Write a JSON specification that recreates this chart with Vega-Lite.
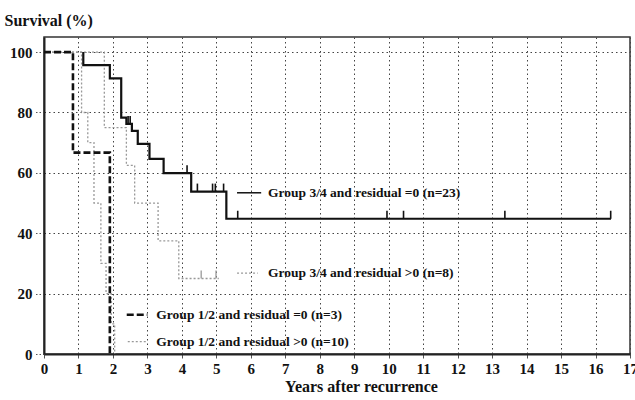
{
  "$schema": "https://vega.github.io/schema/vega-lite/v6.json",
  "width": 586,
  "height": 317,
  "autosize": {"type": "none"},
  "padding": {"left": 44, "top": 37, "right": 5, "bottom": 46},
  "background": "white",
  "data": {"values": [{}]},
  "config": {
    "font": "Liberation Serif",
    "view": {"stroke": "#333", "strokeWidth": 1.5},
    "axis": {
      "labelFont": "Liberation Serif", "labelFontWeight": "bold", "labelFontSize": 15, "labelColor": "#111",
      "titleFont": "Liberation Serif", "titleFontWeight": "bold", "titleFontSize": 16, "titleColor": "#111",
      "domainColor": "#222", "domainWidth": 2,
      "gridColor": "#444", "gridDash": [1.5, 3], "gridWidth": 1,
      "tickColor": "#555"
    },
    "axisX": {
      "values": [0,1,2,3,4,5,6,7,8,9,10,11,12,13,14,15,16,17],
      "tickCount": 40, "labelOverlap": false, "format": "d",
      "grid": true, "tickSize": 4, "labelPadding": 3, "labelFlush": false,
      "titleX": 317, "titleY": 32, "titleBaseline": "middle", "titleAlign": "center"
    },
    "axisY": {
      "values": [0, 20, 40, 60, 80, 100],
      "tickCount": 20, "labelOverlap": false, "format": "d",
      "grid": true, "tickSize": 10, "tickDash": [1.5, 2], "labelPadding": 2,
      "titleAngle": 0, "titleAlign": "left", "titleBaseline": "middle",
      "titleX": -40, "titleY": -17
    }
  },
  "datasets": {
    "curves": [
      {"series": "G34_res0", "years": 1.14, "survival": 100},
      {"series": "G34_res0", "years": 1.14, "survival": 95.7},
      {"series": "G34_res0", "years": 1.91, "survival": 91.3},
      {"series": "G34_res0", "years": 2.24, "survival": 78.3},
      {"series": "G34_res0", "years": 2.39, "survival": 76.2},
      {"series": "G34_res0", "years": 2.55, "survival": 73.9},
      {"series": "G34_res0", "years": 2.72, "survival": 69.6},
      {"series": "G34_res0", "years": 3.06, "survival": 64.6},
      {"series": "G34_res0", "years": 3.47, "survival": 59.9},
      {"series": "G34_res0", "years": 4.27, "survival": 53.8},
      {"series": "G34_res0", "years": 5.29, "survival": 44.8},
      {"series": "G34_res0", "years": 16.45, "survival": 44.8},
      {"series": "G34_resPos", "years": 0, "survival": 100},
      {"series": "G34_resPos", "years": 1.75, "survival": 75},
      {"series": "G34_resPos", "years": 2.39, "survival": 62.5},
      {"series": "G34_resPos", "years": 2.63, "survival": 50},
      {"series": "G34_resPos", "years": 3.31, "survival": 37.5},
      {"series": "G34_resPos", "years": 3.91, "survival": 25},
      {"series": "G34_resPos", "years": 5.07, "survival": 25},
      {"series": "G12_res0", "years": 0, "survival": 100},
      {"series": "G12_res0", "years": 0.84, "survival": 66.7},
      {"series": "G12_res0", "years": 1.91, "survival": 0},
      {"series": "G12_resPos", "years": 0, "survival": 100},
      {"series": "G12_resPos", "years": 1.09, "survival": 80},
      {"series": "G12_resPos", "years": 1.27, "survival": 70},
      {"series": "G12_resPos", "years": 1.45, "survival": 50},
      {"series": "G12_resPos", "years": 1.65, "survival": 30},
      {"series": "G12_resPos", "years": 1.8, "survival": 20},
      {"series": "G12_resPos", "years": 1.95, "survival": 10},
      {"series": "G12_resPos", "years": 2.05, "survival": 0}
    ],
    "censored": [
      {"series": "G34_res0", "years": 2.44, "survival": 76.2},
      {"series": "G34_res0", "years": 2.5, "survival": 76.2},
      {"series": "G34_res0", "years": 4.15, "survival": 59.9},
      {"series": "G34_res0", "years": 4.45, "survival": 53.8},
      {"series": "G34_res0", "years": 4.89, "survival": 53.8},
      {"series": "G34_res0", "years": 4.97, "survival": 53.8},
      {"series": "G34_res0", "years": 5.21, "survival": 53.8},
      {"series": "G34_res0", "years": 5.62, "survival": 44.8},
      {"series": "G34_res0", "years": 9.95, "survival": 44.8},
      {"series": "G34_res0", "years": 10.43, "survival": 44.8},
      {"series": "G34_res0", "years": 13.37, "survival": 44.8},
      {"series": "G34_res0", "years": 16.44, "survival": 44.8},
      {"series": "G34_resPos", "years": 4.56, "survival": 25},
      {"series": "G34_resPos", "years": 4.99, "survival": 25}
    ]
  },
  "layer": [
    {
      "data": {"name": "curves"},
      "transform": [{"filter": "datum.series === 'G34_resPos' || datum.series === 'G12_resPos'"}],
      "mark": {"type": "line", "interpolate": "step-after", "color": "#999", "strokeDash": [2, 2], "strokeWidth": 1.3},
      "encoding": {
        "detail": {"field": "series"},
        "x": {
          "field": "years", "type": "quantitative",
          "scale": {"domain": [0, 17], "nice": false, "zero": false},
          "axis": {"title": "Years after recurrence", "values": [0,1,2,3,4,5,6,7,8,9,10,11,12,13,14,15,16,17], "tickCount": 40, "format": "d"}
        },
        "y": {
          "field": "survival", "type": "quantitative",
          "scale": {"domain": [0, 105], "nice": false},
          "axis": {"title": "Survival (%)", "values": [0, 20, 40, 60, 80, 100], "tickCount": 20, "format": "d"}
        }
      }
    },
    {
      "data": {"name": "censored"},
      "transform": [{"filter": "datum.series === 'G34_resPos'"}],
      "mark": {"type": "point", "shape": "M0,0L0,-1", "size": 256, "filled": false, "stroke": "#999", "strokeWidth": 1.3, "opacity": 1},
      "encoding": {
        "x": {"field": "years", "type": "quantitative", "title": "Years after recurrence"},
        "y": {"field": "survival", "type": "quantitative", "title": "Survival (%)"}
      }
    },
    {
      "data": {"name": "curves"},
      "transform": [{"filter": "datum.series === 'G12_res0'"}],
      "mark": {"type": "line", "interpolate": "step-after", "color": "#111", "strokeDash": [7, 3], "strokeWidth": 2.6},
      "encoding": {
        "x": {"field": "years", "type": "quantitative", "title": "Years after recurrence"},
        "y": {"field": "survival", "type": "quantitative", "title": "Survival (%)"}
      }
    },
    {
      "data": {"name": "curves"},
      "transform": [{"filter": "datum.series === 'G34_res0'"}],
      "mark": {"type": "line", "interpolate": "step-after", "color": "#111", "strokeWidth": 2.2},
      "encoding": {
        "x": {"field": "years", "type": "quantitative", "title": "Years after recurrence"},
        "y": {"field": "survival", "type": "quantitative", "title": "Survival (%)"}
      }
    },
    {
      "data": {"name": "censored"},
      "transform": [{"filter": "datum.series === 'G34_res0'"}],
      "mark": {"type": "point", "shape": "M0,0L0,-1", "size": 256, "filled": false, "stroke": "#111", "strokeWidth": 1.6, "opacity": 1},
      "encoding": {
        "x": {"field": "years", "type": "quantitative", "title": "Years after recurrence"},
        "y": {"field": "survival", "type": "quantitative", "title": "Survival (%)"}
      }
    },
    {
      "mark": {"type": "rule", "color": "#111", "strokeWidth": 1.5},
      "encoding": {"x": {"datum": 5.6, "type": "quantitative", "title": "Years after recurrence"}, "x2": {"datum": 6.3}, "y": {"datum": 53.4, "type": "quantitative", "title": "Survival (%)"}}
    },
    {
      "mark": {"type": "text", "align": "left", "baseline": "middle", "font": "Liberation Serif", "fontWeight": "bold", "fontSize": 13.5, "color": "#111"},
      "encoding": {"x": {"datum": 6.5, "type": "quantitative", "title": "Years after recurrence"}, "y": {"datum": 53.4, "type": "quantitative", "title": "Survival (%)"}, "text": {"value": "Group 3/4  and residual =0 (n=23)"}}
    },
    {
      "mark": {"type": "rule", "color": "#999", "strokeWidth": 1.3, "strokeDash": [2, 2]},
      "encoding": {"x": {"datum": 5.6, "type": "quantitative", "title": "Years after recurrence"}, "x2": {"datum": 6.2}, "y": {"datum": 26.8, "type": "quantitative", "title": "Survival (%)"}}
    },
    {
      "mark": {"type": "text", "align": "left", "baseline": "middle", "font": "Liberation Serif", "fontWeight": "bold", "fontSize": 13.5, "color": "#111"},
      "encoding": {"x": {"datum": 6.5, "type": "quantitative", "title": "Years after recurrence"}, "y": {"datum": 26.8, "type": "quantitative", "title": "Survival (%)"}, "text": {"value": "Group 3/4  and residual >0 (n=8)"}}
    },
    {
      "mark": {"type": "rule", "color": "#111", "strokeWidth": 2.6, "strokeDash": [7, 3]},
      "encoding": {"x": {"datum": 2.4, "type": "quantitative", "title": "Years after recurrence"}, "x2": {"datum": 3.0}, "y": {"datum": 13, "type": "quantitative", "title": "Survival (%)"}}
    },
    {
      "mark": {"type": "text", "align": "left", "baseline": "middle", "font": "Liberation Serif", "fontWeight": "bold", "fontSize": 13.5, "color": "#111"},
      "encoding": {"x": {"datum": 3.26, "type": "quantitative", "title": "Years after recurrence"}, "y": {"datum": 13, "type": "quantitative", "title": "Survival (%)"}, "text": {"value": "Group 1/2  and residual =0 (n=3)"}}
    },
    {
      "mark": {"type": "rule", "color": "#999", "strokeWidth": 1.3, "strokeDash": [2, 2]},
      "encoding": {"x": {"datum": 2.43, "type": "quantitative", "title": "Years after recurrence"}, "x2": {"datum": 3.0}, "y": {"datum": 4.1, "type": "quantitative", "title": "Survival (%)"}}
    },
    {
      "mark": {"type": "text", "align": "left", "baseline": "middle", "font": "Liberation Serif", "fontWeight": "bold", "fontSize": 13.5, "color": "#111"},
      "encoding": {"x": {"datum": 3.26, "type": "quantitative", "title": "Years after recurrence"}, "y": {"datum": 4.1, "type": "quantitative", "title": "Survival (%)"}, "text": {"value": "Group 1/2  and residual >0 (n=10)"}}
    }
  ]
}
